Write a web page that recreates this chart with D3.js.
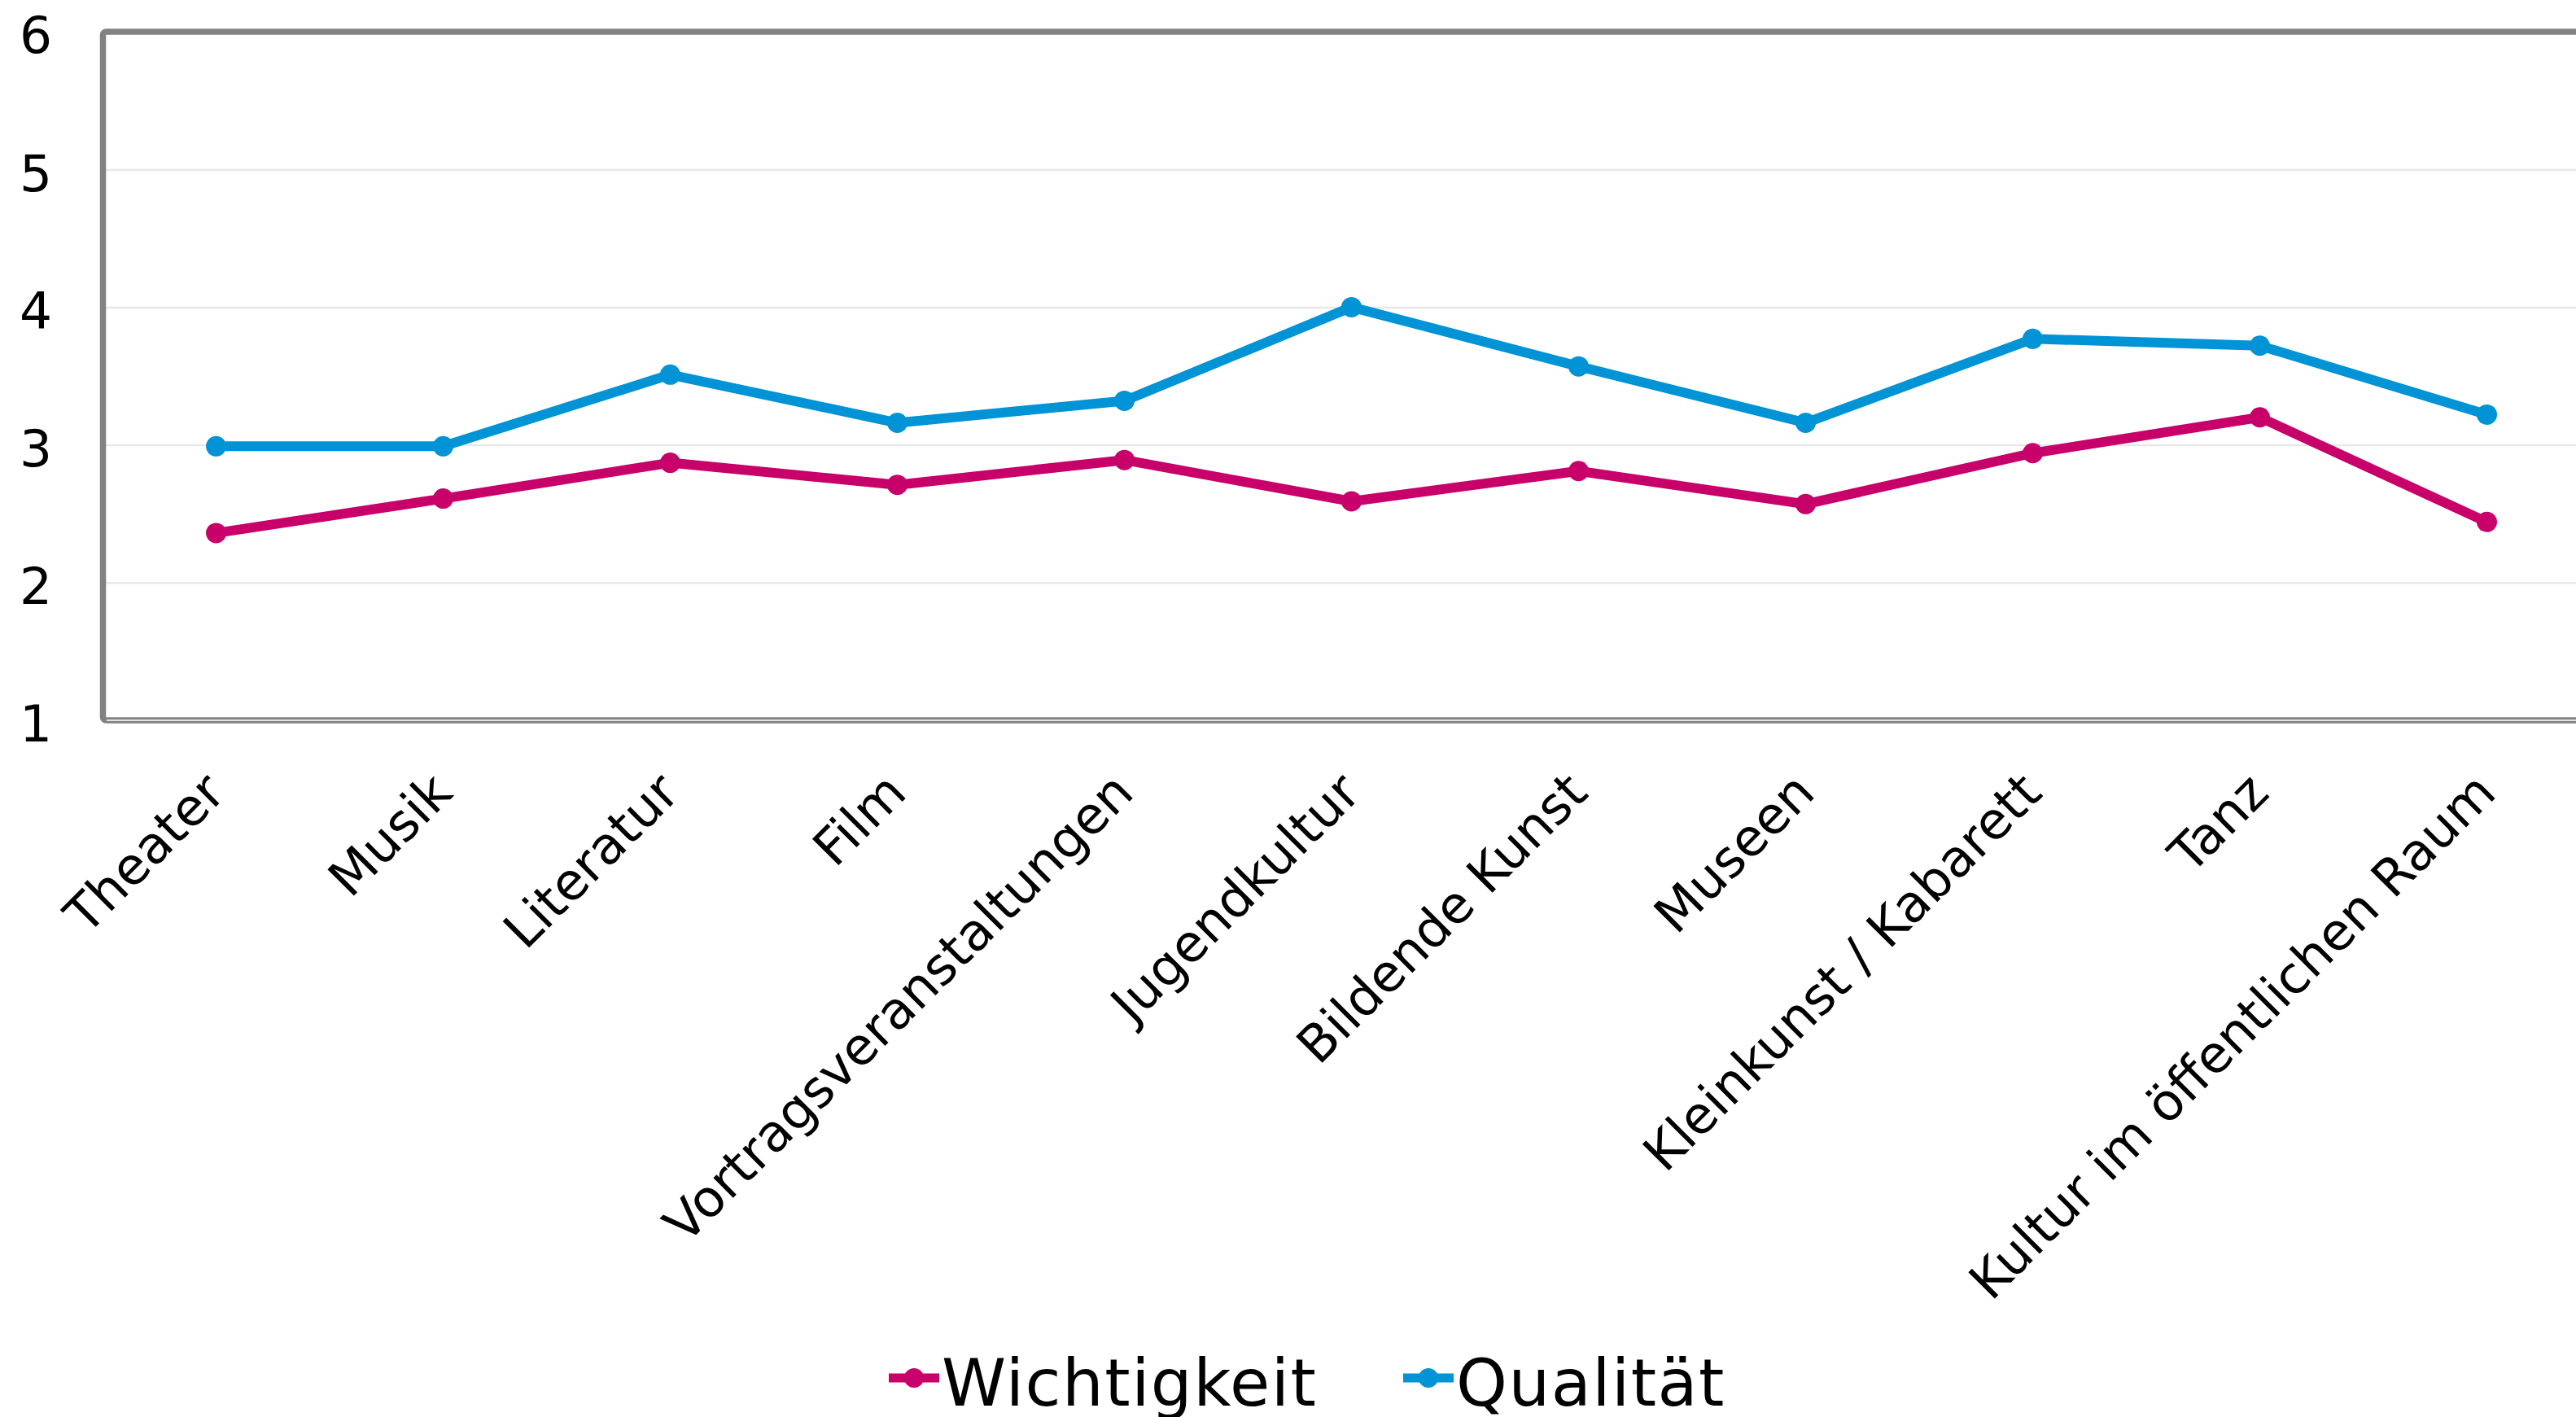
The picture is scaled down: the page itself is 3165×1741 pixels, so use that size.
<!DOCTYPE html>
<meta charset="utf-8">
<style>
body { margin: 0; background: #fff; }
svg { display: block; font-family: "DejaVu Sans", sans-serif; }
.grid line { stroke: #e8e8e8; stroke-width: 2.5; }
.frame { fill: none; stroke: #828282; stroke-width: 7.5; }
.y-axis text { font-size: 63px; fill: #000; }
.x-axis text { font-size: 63px; fill: #000; }
.legend-text { font-size: 80px; fill: #000; letter-spacing: 1.5px; }
.series { fill: none; stroke-width: 12; stroke-linejoin: round; }
</style>
<body>
<div id="chart"></div>
<script src="https://cdn.jsdelivr.net/npm/d3@7/dist/d3.min.js"></script>
<script>

// categories along the x axis
var categories = ["Theater", "Musik", "Literatur", "Film", "Vortragsveranstaltungen",
  "Jugendkultur", "Bildende Kunst", "Museen", "Kleinkunst / Kabarett", "Tanz",
  "Kultur im öffentlichen Raum"];

// series values
var wichtigkeit = [2.36, 2.61, 2.87, 2.71, 2.89, 2.59, 2.81, 2.57, 2.94, 3.20, 2.44];
var qualitaet = [2.99, 2.99, 3.51, 3.16, 3.32, 4.00, 3.57, 3.16, 3.77, 3.72, 3.22];

var seriesNames = ["Wichtigkeit", "Qualität"];
var seriesColors = ["#c8006a", "#0093d5"];
var yTicks = [1, 2, 3, 4, 5, 6];

var series = [
  { name: seriesNames[0], color: seriesColors[0], values: wichtigkeit },
  { name: seriesNames[1], color: seriesColors[1], values: qualitaet }
];

var width = 3165,
    height = 1741;

var svg = d3.select("#chart").append("svg")
    .attr("width", width)
    .attr("height", height);

// plot area runs past the right edge, like the original
var x = d3.scaleBand()
    .domain(categories)
    .range([126, 126 + categories.length * 279])
    .padding(0);

var y = d3.scaleLinear()
    .domain([1, 6])
    .range([885, 39]);

// gridlines
svg.append("g")
    .attr("class", "grid")
    .attr("transform", "translate(130,0)")
    .call(d3.axisLeft(y)
      .tickValues(yTicks.slice(1, -1))
      .tickSize(-(width - 130))
      .tickFormat(""))
  .select(".domain").remove();

// frame around plot area
svg.append("rect")
    .attr("class", "frame")
    .attr("x", 126.5)
    .attr("y", 39)
    .attr("rx", 4)
    .attr("width", width + 100)
    .attr("height", y(1) - 39);

// thin white line makes the bottom edge look doubled
svg.append("line")
    .attr("x1", 131)
    .attr("x2", width)
    .attr("y1", y(1))
    .attr("y2", y(1))
    .attr("stroke", "#fff")
    .attr("stroke-width", 1.6);

// y axis labels
var yAxis = svg.append("g")
    .attr("class", "y-axis")
    .attr("transform", "translate(126,0)")
    .call(d3.axisLeft(y)
      .tickValues(yTicks)
      .tickSize(0)
      .tickPadding(62)
      .tickFormat(d3.format("d")));
yAxis.select(".domain").remove();
yAxis.selectAll("text")
    .attr("dy", "0.41em");

// x axis labels, rotated
var xAxis = svg.append("g")
    .attr("class", "x-axis")
    .attr("transform", "translate(0," + y(1) + ")")
    .call(d3.axisBottom(x).tickSize(0));
xAxis.select(".domain").remove();
xAxis.selectAll("text")
    .attr("x", 0)
    .attr("y", 0)
    .attr("dy", 0)
    .attr("text-anchor", "end")
    .attr("transform", "translate(14,92) rotate(-45)");
yAxis.attr("font-family", null).attr("font-size", null);
xAxis.attr("font-family", null).attr("font-size", null);

var line = d3.line()
    .x(function(d, i) { return x(categories[i]) + x.bandwidth() / 2; })
    .y(function(d) { return y(d); });

var groups = svg.selectAll(".series-g")
    .data(series)
    .enter().append("g")
    .attr("class", "series-g");

groups.append("path")
    .attr("class", "series")
    .attr("stroke", function(d) { return d.color; })
    .attr("d", function(d) { return line(d.values); });

groups.each(function(s) {
  d3.select(this).selectAll("circle")
      .data(s.values)
      .enter().append("circle")
      .attr("cx", function(d, i) { return x(categories[i]) + x.bandwidth() / 2; })
      .attr("cy", function(d) { return y(d); })
      .attr("r", 12.5)
      .attr("fill", s.color);
});

// legend
var legend = svg.selectAll(".legend")
    .data(series)
    .enter().append("g")
    .attr("class", "legend")
    .attr("transform", function(d, i) { return "translate(" + (1092 + i * 632) + ",1693)"; });

legend.append("line")
    .attr("x1", 0)
    .attr("x2", 62)
    .attr("stroke", function(d) { return d.color; })
    .attr("stroke-width", 11);

legend.append("circle")
    .attr("cx", 31)
    .attr("r", 12)
    .attr("fill", function(d) { return d.color; });

legend.append("text")
    .attr("class", "legend-text")
    .attr("x", 65)
    .attr("y", 34)
    .text(function(d) { return d.name; });

</script>
</body>
